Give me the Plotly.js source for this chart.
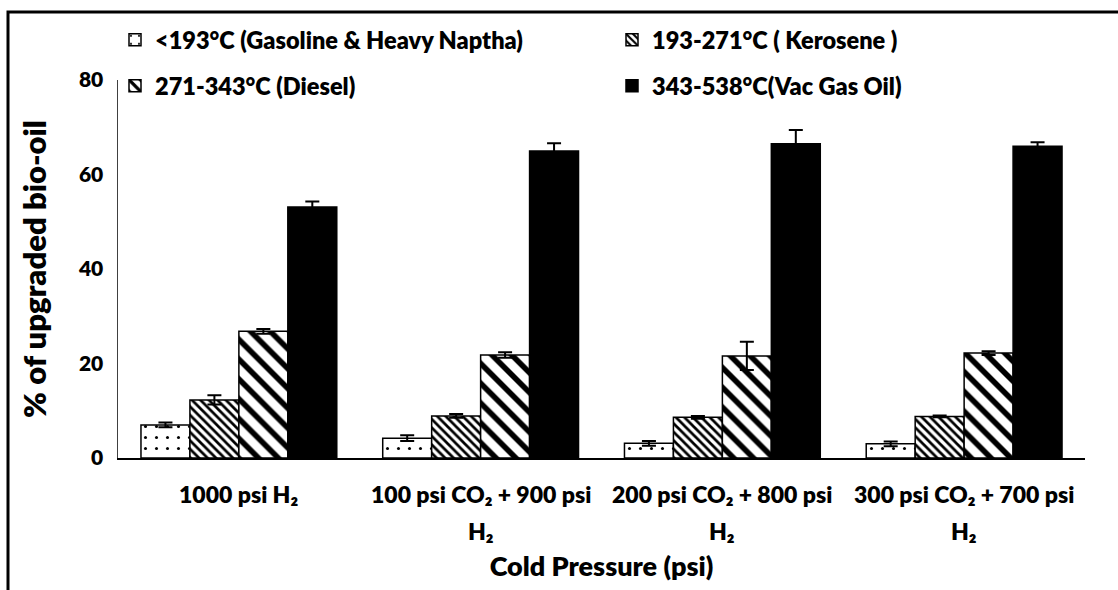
<!DOCTYPE html>
<html>
<head>
<meta charset="utf-8">
<script src="https://cdn.plot.ly/plotly-3.0.1.min.js"></script>
<style>
  html, body { margin: 0; padding: 0; background: #fff; }
  #chart { width: 1118px; height: 590px; }
</style>
</head>
<body>
<div id="chart"></div>
<script>
// Distillation fractions of upgraded bio-oil under different cold-pressure gas mixes
const categories = [
  "1000 psi H\u2082",
  "100 psi CO\u2082 + 900 psi<br>H\u2082",
  "200 psi CO\u2082 + 800 psi<br>H\u2082",
  "300 psi CO\u2082 + 700 psi<br>H\u2082"
];
const seriesNames = [
  "<193°C (Gasoline & Heavy Naptha)",
  "193-271°C ( Kerosene )",
  "271-343°C (Diesel)",
  "343-538°C(Vac Gas Oil)"
];
const gasolineVals = [7.0, 4.2, 3.1, 3.0];
const gasolineErr  = [0.5, 0.6, 0.5, 0.5];
const keroseneVals = [12.3, 8.9, 8.6, 8.8];
const keroseneErr  = [1.0, 0.4, 0.3, 0.2];
const dieselVals   = [26.8, 21.8, 21.6, 22.2];
const dieselErr    = [0.5, 0.6, 3.0, 0.4];
const vgoVals      = [53.1, 65.0, 66.5, 66.0];
const vgoErr       = [1.2, 1.6, 2.9, 0.8];
const yTicks = [0, 20, 40, 60, 80];

const FONT = "Lato, 'Noto Sans', sans-serif";
const WEIGHT = 800;

const xIdx = categories.map((_, i) => i);

function barTrace(name, vals, errs, pattern, color, legendId) {
  return {
    type: "bar",
    name: name,
    x: xIdx,
    y: vals,
    legend: legendId,
    marker: {
      color: color,
      line: { color: "#000", width: 1.5 },
      pattern: pattern
    },
    error_y: { type: "data", array: errs, visible: true, color: "#000", thickness: 2, width: 7 },
    hoverinfo: "skip"
  };
}

const traces = [
  barTrace(seriesNames[0], gasolineVals, gasolineErr,
    { shape: ".", bgcolor: "#fff", fgcolor: "#000", size: 11, solidity: 0.06, fillmode: "replace" }, "#fff", "legend"),
  barTrace(seriesNames[1], keroseneVals, keroseneErr,
    { shape: "\\", bgcolor: "#fff", fgcolor: "#000", size: 6, solidity: 0.45, fillmode: "replace" }, "#fff", "legend2"),
  barTrace(seriesNames[2], dieselVals, dieselErr,
    { shape: "\\", bgcolor: "#fff", fgcolor: "#000", size: 14, solidity: 0.4, fillmode: "replace" }, "#fff", "legend3"),
  barTrace(seriesNames[3], vgoVals, vgoErr, { shape: "" }, "#000", "legend4")
];

// category labels drawn below the axis, one annotation per line
const annotations = [];
categories.forEach((label, i) => {
  label.split("<br>").forEach((line, k) => {
    annotations.push({
      x: i, xref: "x", y: 0, yref: "y",
      yshift: -36 - 37 * k,
      text: line, showarrow: false,
      font: { family: FONT, size: 23, color: "#000", weight: WEIGHT },
      xanchor: "center", yanchor: "middle"
    });
  });
});

const W = 967, H = 378;
function px(xp) { return (xp - 118) / W; }
function py(yp) { return (458 - yp) / H; }

function legendAt(xPix, yPix) {
  return {
    orientation: "h", x: px(xPix), xanchor: "left", y: py(yPix), yanchor: "middle",
    font: { family: FONT, size: 23.5, weight: WEIGHT, color: "#000" },
    bgcolor: "rgba(0,0,0,0)", itemclick: false, itemdoubleclick: false
  };
}

const layout = {
  width: 1118, height: 590,
  margin: { l: 118, r: 33, t: 80, b: 132 },
  paper_bgcolor: "#fff", plot_bgcolor: "#fff",
  barmode: "group", bargap: 0.19, bargroupgap: 0,
  font: { family: FONT, color: "#000" },
  xaxis: {
    range: [-0.5, 3.5],
    tickvals: xIdx,
    showticklabels: false,
    ticks: "",
    showgrid: false, zeroline: false,
    showline: true, linecolor: "#000", linewidth: 2,
    title: { text: "Cold Pressure (psi)", font: { family: FONT, size: 27, weight: WEIGHT }, standoff: 98 },
    automargin: false
  },
  yaxis: {
    range: [0, 80],
    tickvals: yTicks,
    ticktext: yTicks.map(String),
    ticks: "",
    ticklabelstandoff: 9,
    tickfont: { family: FONT, size: 21, weight: WEIGHT },
    showgrid: false, zeroline: false,
    showline: true, linecolor: "#404040", linewidth: 1.5,
    title: { text: "% of upgraded bio-oil", font: { family: FONT, size: 31, weight: WEIGHT }, standoff: 22 },
    automargin: false
  },
  legend: legendAt(115, 40),
  legend2: legendAt(612, 40),
  legend3: legendAt(115, 86),
  legend4: legendAt(612, 86),
  annotations: annotations,
  shapes: [{
    type: "path", xref: "paper", yref: "paper",
    path: "M " + px(8) + " " + py(590) + " L " + px(8) + " " + py(12) + " L " + px(1118) + " " + py(12),
    line: { color: "#000", width: 3 }
  }],
  showlegend: true
};

Plotly.newPlot("chart", traces, layout, { staticPlot: true, displayModeBar: false });
</script>
</body>
</html>
